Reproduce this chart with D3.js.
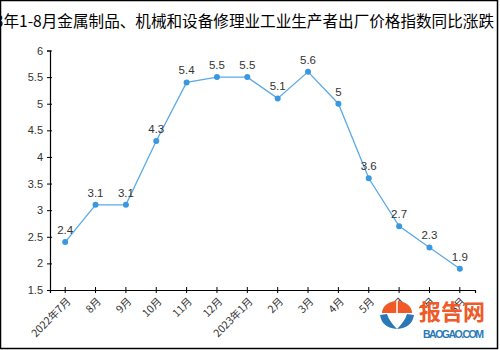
<!DOCTYPE html>
<html>
<head>
<meta charset="utf-8">
<script src="https://cdn.jsdelivr.net/npm/d3@7/dist/d3.min.js"></script>
<style>
  html, body { margin: 0; padding: 0; background: #fff; }
  svg { display: block; }
</style>
</head>
<body>
<script>
// Year-on-year change of the producer price index, metal products & equipment repair
const titleText = "2023年1-8月金属制品、机械和设备修理业工业生产者出厂价格指数同比涨跌";
const categories = ["2022年7月", "8月", "9月", "10月", "11月", "12月", "2023年1月",
                    "2月", "3月", "4月", "5月", "6月", "7月", "8月"];
const values = [2.4, 3.1, 3.1, 4.3, 5.4, 5.5, 5.5, 5.1, 5.6, 5, 3.6, 2.7, 2.3, 1.9];
const yTicks = [1.5, 2, 2.5, 3, 3.5, 4, 4.5, 5, 5.5, 6];

const W = 500, H = 350;
const margin = { left: 50, right: 25, top: 50.5, bottom: 60 };

const svg = d3.select("body").append("svg")
  .attr("width", W).attr("height", H);

svg.append("rect").attr("x", 0).attr("y", 0).attr("width", W).attr("height", H)
  .attr("fill", "#fff");

// title (runs wider than the frame)
svg.append("text")
  .attr("x", 494).attr("y", 27)
  .attr("text-anchor", "end")
  .attr("font-family", "'Noto Sans CJK SC', sans-serif")
  .attr("font-size", 15.6)
  .attr("fill", "#000")
  .text(titleText);

// month labels repeat across years, so the band scale is keyed by index
const idx = d3.range(categories.length);
const x = d3.scaleBand()
  .domain(idx)
  .range([margin.left, W - margin.right]);

const y = d3.scaleLinear()
  .domain([1.5, 6])
  .range([H - margin.bottom, margin.top]);

const axisFont = "'Liberation Sans', Arial, sans-serif";

// y axis
const yAxis = svg.append("g")
  .attr("transform", `translate(${margin.left},0)`)
  .call(d3.axisLeft(y).tickValues(yTicks).tickSize(3).tickPadding(4).tickFormat(d3.format("")));
yAxis.select(".domain").attr("stroke", "#000").attr("stroke-width", 1.2);
yAxis.selectAll(".tick line").attr("x2", 2).attr("x1", -3).attr("stroke", "#000");
yAxis.selectAll(".tick text")
  .attr("font-family", axisFont).attr("font-size", 11).attr("fill", "#333");

// x axis
const xAxis = svg.append("g")
  .attr("transform", `translate(0,${H - margin.bottom})`)
  .call(d3.axisBottom(x).tickSizeOuter(0).tickSize(3).tickPadding(4)
    .tickFormat(i => categories[i]));
xAxis.select(".domain").attr("stroke", "#000").attr("stroke-width", 1.2);
xAxis.selectAll(".tick line").attr("y1", -3).attr("y2", 3).attr("stroke", "#000");
xAxis.selectAll(".tick text")
  .attr("font-family", "'Noto Sans CJK SC', sans-serif")
  .attr("font-size", 10.5)
  .attr("fill", "#333")
  .attr("text-anchor", "end")
  .attr("dy", "0.3em")
  .attr("transform", "translate(-1,5) rotate(-45)");

const cx = i => x(i) + x.bandwidth() / 2;

// series line
svg.append("path")
  .datum(values)
  .attr("fill", "none")
  .attr("stroke", "#5aaae8")
  .attr("stroke-width", 1.3)
  .attr("d", d3.line().x((d, i) => cx(i)).y(d => y(d)));

// points
svg.append("g").selectAll("circle")
  .data(values).join("circle")
  .attr("cx", (d, i) => cx(i))
  .attr("cy", d => y(d))
  .attr("r", 3)
  .attr("fill", "#3a98e0");

// value labels
svg.append("g").selectAll("text")
  .data(values).join("text")
  .attr("x", (d, i) => cx(i))
  .attr("y", d => y(d) - 8)
  .attr("text-anchor", "middle")
  .attr("font-family", axisFont)
  .attr("font-size", 11.5)
  .attr("fill", "#333")
  .text(d => d);

// site logo, lower right
const logo = svg.append("g");
logo.append("path")
  .attr("d", "M382,313 A15,12 0 0 1 412,313 Z")
  .attr("fill", "#ef5a28");
logo.append("path")
  .attr("d", "M397,301 L397,323")
  .attr("stroke", "#fff").attr("stroke-width", 1.5);
logo.append("path")
  .attr("d", "M380,315 Q382,328 397,329 Q389,321 387,314 Z M414,315 Q412,328 397,329 Q405,321 407,314 Z")
  .attr("fill", "#2a78b8");
logo.append("text")
  .attr("x", 419).attr("y", 320)
  .attr("font-family", "'Noto Sans CJK SC', sans-serif")
  .attr("font-weight", "bold")
  .attr("font-size", 22)
  .attr("fill", "#ef5a28")
  .text("报告网");
logo.append("text")
  .attr("x", 423).attr("y", 338)
  .attr("font-family", "'Liberation Sans', Arial, sans-serif")
  .attr("font-weight", "bold")
  .attr("font-size", 10.5)
  .attr("fill", "#2a78b8")
  .attr("textLength", 61)
  .text("BAOGAO.COM");

// outer frame
svg.append("rect")
  .attr("x", 0.5).attr("y", 0.5).attr("width", 497).attr("height", 348)
  .attr("fill", "none").attr("stroke", "#000").attr("stroke-width", 1.5);
</script>
</body>
</html>
